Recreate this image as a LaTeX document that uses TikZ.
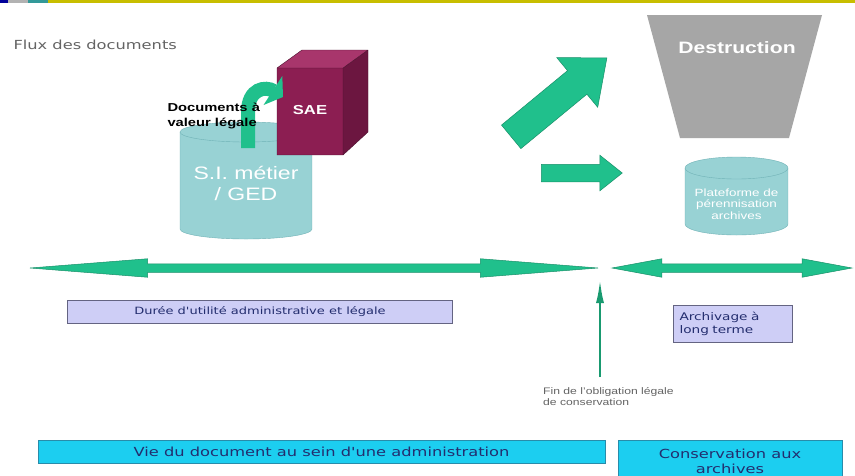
\documentclass[tikz,border=0pt]{standalone}
\usepackage{fontspec}
\setmainfont{Liberation Sans}[FakeStretch=1.28]
\newfontfamily\verdana{DejaVu Sans}[FakeStretch=1.3]
\usetikzlibrary{arrows.meta,shapes.arrows}

\definecolor{flowgreen}{RGB}{32,192,140}
\definecolor{cylteal}{RGB}{152,210,212}
\definecolor{cylline}{RGB}{112,178,182}
\definecolor{saefront}{RGB}{140,30,82}
\definecolor{saetop}{RGB}{168,54,108}
\definecolor{saeside}{RGB}{108,22,64}
\definecolor{destgray}{RGB}{166,166,166}
\definecolor{lavender}{RGB}{206,206,246}
\definecolor{boxedge}{RGB}{100,100,130}
\definecolor{cyanbox}{RGB}{28,206,240}
\definecolor{cyanedge}{RGB}{40,140,170}
\definecolor{navytext}{RGB}{35,45,110}
\definecolor{fluxgray}{RGB}{100,100,100}
\definecolor{stripeolive}{RGB}{200,190,0}

\tikzset{
  blockarrow/.style={single arrow, fill=flowgreen, draw=flowgreen!75!black, line width=0.5pt, inner xsep=0pt},
  spanarrow/.style={double arrow, fill=flowgreen, draw=flowgreen!75!black, line width=0.5pt, inner xsep=0pt, inner ysep=4pt, double arrow head extend=5pt},
  periodbox/.style={draw=boxedge, fill=lavender, text=navytext, line width=0.8pt},
  phasebox/.style={draw=cyanedge, fill=cyanbox, text=navytext, line width=0.8pt, align=center, font=\verdana\fontsize{12.5}{15}\selectfont},
  whitetext/.style={text=white, align=center}
}

\begin{document}
\begin{tikzpicture}[x=1pt,y=-1pt]
\useasboundingbox[fill=white] (0,0) rectangle (855,475);
\clip (0,0) rectangle (855,475);

% top stripe
\fill[blue!60!black] (0,0) rectangle (8,2.5);
\fill[gray!60] (8,0) rectangle (28,2.5);
\fill[teal!80] (28,0) rectangle (48,2.5);
\fill[stripeolive] (48,0) rectangle (855,2.5);

\node[anchor=west, text=fluxgray, font=\verdana\fontsize{12.5}{15}\selectfont] (flux) at (10,45) {Flux des documents};

% S.I. metier cylinder
\fill[cylteal] (180,132) rectangle (312,229);
\fill[cylteal] (246,229) ellipse[x radius=66, y radius=10];
\draw[cylline] (180,132) -- (180,229) arc[start angle=180, end angle=0, x radius=66, y radius=10] -- (312,132);
\draw[cylline, fill=cylteal] (246,132) ellipse[x radius=66, y radius=10];
\node[whitetext, font=\fontsize{18}{21}\selectfont] (simetier) at (246,183) {S.I. métier\\/ GED};

% SAE cube
\fill[saetop] (277,68) -- (302,50) -- (368,50) -- (343,68) -- cycle;
\fill[saeside] (343,68) -- (368,50) -- (368,132) -- (343,155) -- cycle;
\fill[saefront] (277,68) rectangle (343,155);
\draw[saeside!70!black, line width=0.4pt] (277,68) -- (302,50) -- (368,50) -- (368,132) -- (343,155) -- (277,155) -- cycle (277,68) -- (343,68) -- (368,50) (343,68) -- (343,155);
\node[text=white, font=\bfseries\fontsize{13}{15}\selectfont] (sae) at (310,110) {SAE};

% bent arrow into the SAE
\draw[flowgreen, line width=14pt, -{Triangle[length=12pt,width=34pt]}] (248,148) -- (248,112) .. controls (248,88) and (266,86) .. (283,97);
\node[anchor=west, align=left, font=\bfseries\fontsize{11.5}{14.5}\selectfont] (legale) at (164,116) {Documents à\\valeur légale};

% arrows to destruction and archives
\node[blockarrow, rotate=39.5, anchor=tail, minimum height=124pt, inner ysep=15pt, single arrow head extend=17pt, single arrow tip angle=80] (todestr) at (511,137) {};
\node[blockarrow, anchor=tail, minimum height=81pt, inner ysep=8.5pt, single arrow head extend=9pt, single arrow tip angle=77] (toarch) at (541,173) {};

% destruction
\fill[destgray] (647,15) -- (822,15) -- (789,138) -- (680,138) -- cycle;
\node[text=white, font=\bfseries\fontsize{16.5}{19}\selectfont] (destr) at (737,48) {Destruction};

% platform cylinder
\fill[cylteal] (685,168) rectangle (788,224);
\fill[cylteal] (736.5,224) ellipse[x radius=51.5, y radius=11];
\draw[cylline] (685,168) -- (685,224) arc[start angle=180, end angle=0, x radius=51.5, y radius=11] -- (788,168);
\draw[cylline, fill=cylteal] (736.5,168) ellipse[x radius=51.5, y radius=11];
\node[whitetext, font=\fontsize{10.5}{11.5}\selectfont] (plateforme) at (736.5,204) {Plateforme de\\pérennisation\\archives};

% time spans
\node[spanarrow, minimum height=568pt, double arrow tip angle=9] (dua) at (314,268) {};
\node[spanarrow, minimum height=240pt, double arrow tip angle=21] (longterm) at (732,268) {};

\node[periodbox, minimum width=385pt, minimum height=23pt, font=\verdana\fontsize{10}{12}\selectfont] (duree) at (260,311.5) {Durée d'utilité administrative et légale};
\node[periodbox, text width=106pt, inner xsep=6.5pt, minimum height=37pt, align=left, font=\verdana\fontsize{10.5}{13}\selectfont] (archivage) at (732.5,323.5) {Archivage à\\long terme};

% end of legal obligation
\coordinate (finpt) at (600,377);
\coordinate (gap) at (600,279);
\draw[flowgreen!80!black, line width=2.5pt, -{Latex[length=24pt,width=8pt]}] (finpt) -- (gap);
\node[anchor=north west, align=left, text=fluxgray, inner sep=0pt, font=\fontsize{9.5}{11}\selectfont] (finobl) at (543,387) {Fin de l'obligation légale\\de conservation};

% phases
\node[phasebox, minimum width=567pt, minimum height=23pt] (vie) at (321.5,451.5) {Vie du document au sein d'une administration};
\node[phasebox, minimum width=224pt, minimum height=42pt] (conserv) at (730,461) {Conservation aux\\archives};
\end{tikzpicture}
\end{document}
